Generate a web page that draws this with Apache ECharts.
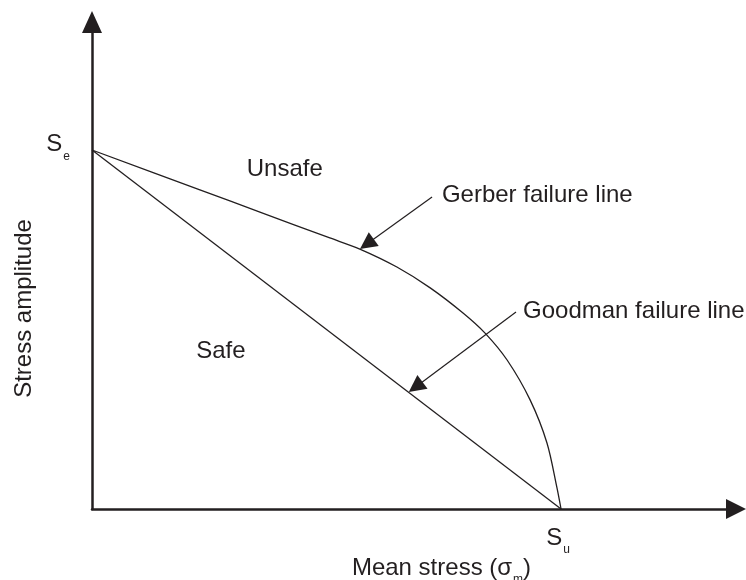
<!DOCTYPE html>
<html>
<head>
<meta charset="utf-8">
<script src="https://cdn.jsdelivr.net/npm/echarts@6/dist/echarts.min.js"></script>
<style>
  html, body { margin: 0; padding: 0; background: #fff; }
  #main { width: 746px; height: 580px; }
</style>
</head>
<body>
<div id="main"></div>
<script>
// mean stress in units of Su, stress amplitude in units of Se
var gerberM = [0, 0.230, 0.358, 0.507, 0.571, 0.650, 0.721, 0.791, 0.838, 0.885, 0.934, 0.970, 0.991, 1];
var gerberA = [1, 0.889, 0.827, 0.755, 0.724, 0.674, 0.616, 0.546, 0.490, 0.415, 0.304, 0.184, 0.061, 0];
var goodmanM = [0, 1];
var goodmanA = [1, 0];

var noteNames = ['Unsafe', 'Safe', 'Gerber failure line', 'Goodman failure line'];
var noteM = [0.330, 0.222, 0.746, 0.919];
var noteA = [0.950, 0.443, 0.875, 0.552];

// leader arrows: from label towards the line
var leaderFrom = [[0.725, 0.869], [0.904, 0.549]];
var leaderTo = [[0.586, 0.738], [0.690, 0.340]];

var ink = '#231f20';

// main letter + subscript sitting below its baseline
var subRich = {
  s: { fontSize: 24, color: ink, lineHeight: 26, verticalAlign: 'top' },
  sub: { fontSize: 12, color: ink, lineHeight: 12, verticalAlign: 'top', padding: [18, 0, 0, 1] }
};

function pairs(xs, ys) {
  return xs.map(function (x, i) { return [x, ys[i]]; });
}

var myChart = echarts.init(document.getElementById('main'));

var option = {
  animation: false,
  textStyle: { fontFamily: 'Liberation Sans, Arial, sans-serif', color: ink },
  grid: { left: 92, right: 10, top: 22, bottom: 71, containLabel: false, outerBoundsMode: 'none' },
  xAxis: {
    type: 'value',
    min: 0,
    max: 1.373,
    splitLine: { show: false },
    axisTick: { show: false },
    axisLine: {
      lineStyle: { color: ink, width: 2.5 },
      symbol: ['none', 'triangle'],
      symbolSize: [20, 20]
    },
    axisLabel: {
      customValues: [1],
      margin: 17,
      padding: [0, 6, 0, 0],
      formatter: function () { return '{s|S}{sub|u}'; },
      rich: subRich
    },
    name: '{s|Mean stress (σ}{sub|m}{s|)}',
    nameLocation: 'middle',
    nameGap: 47,
    nameMoveOverlap: false,
    nameTextStyle: {
      padding: [0, 0, 0, 55],
      rich: subRich
    }
  },
  yAxis: {
    type: 'value',
    min: 0,
    max: 1.3565,
    splitLine: { show: false },
    axisTick: { show: false },
    axisLine: {
      lineStyle: { color: ink, width: 2.5 },
      symbol: ['none', 'triangle'],
      symbolSize: [20, 22]
    },
    axisLabel: {
      customValues: [1],
      margin: 22,
      padding: [0, 0, 9, 0],
      formatter: function () { return '{s|S}{sub|e}'; },
      rich: subRich
    },
    name: 'Stress amplitude',
    nameLocation: 'middle',
    nameGap: 56,
    nameMoveOverlap: false,
    nameTextStyle: { fontSize: 24, color: ink, padding: [0, 86, 0, 0] }
  },
  series: [
    {
      name: 'Gerber',
      type: 'line',
      data: pairs(gerberM, gerberA),
      smooth: 0.3,
      symbol: 'none',
      lineStyle: { color: ink, width: 1.3 }
    },
    {
      name: 'Goodman',
      type: 'line',
      data: pairs(goodmanM, goodmanA),
      symbol: 'none',
      lineStyle: { color: ink, width: 1.3 }
    },
    {
      name: 'leaders',
      type: 'lines',
      coordinateSystem: 'cartesian2d',
      symbol: ['none', 'triangle'],
      symbolSize: 17,
      lineStyle: { color: ink, width: 1.2, opacity: 1 },
      itemStyle: { color: ink },
      data: leaderFrom.map(function (p, i) { return { coords: [p, leaderTo[i]] }; })
    },
    {
      name: 'notes',
      type: 'scatter',
      symbolSize: 0,
      itemStyle: { opacity: 1 },
      data: noteNames.map(function (n, i) { return { name: n, value: [noteM[i], noteA[i]] }; }),
      label: {
        show: true,
        position: 'right',
        distance: 0,
        offset: [0, 1],
        formatter: '{b}',
        fontSize: 24,
        color: ink
      }
    }
  ]
};

myChart.setOption(option);
</script>
</body>
</html>
